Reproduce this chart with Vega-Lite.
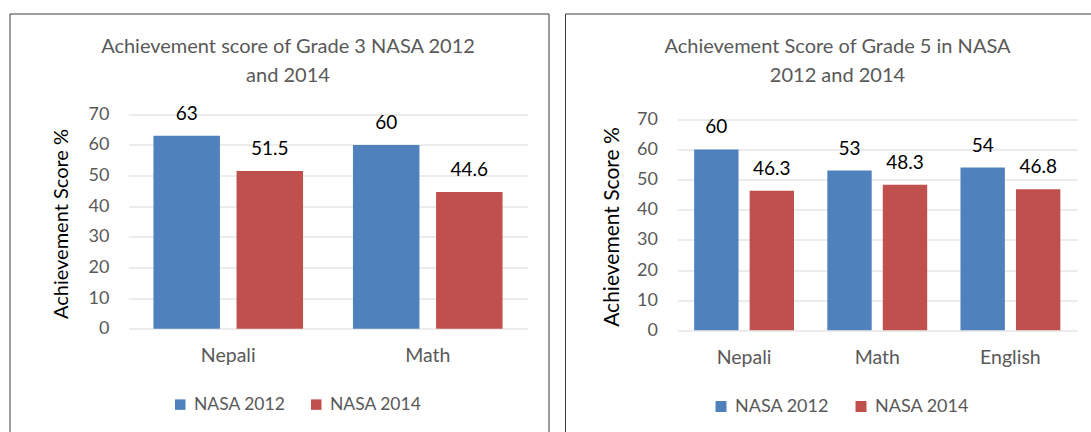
{
  "$schema": "https://vega.github.io/schema/vega-lite/v6.json",
  "padding": {"left": 8.5, "top": 12.5, "right": 0, "bottom": 0},
  "background": "white",
  "spacing": 14.5,
  "config": {
    "font": "Lato",
    "view": {"stroke": "#3c3c3c", "strokeWidth": 1}
  },
  "resolve": {
    "scale": {"x": "independent", "y": "independent", "xOffset": "independent", "color": "independent"},
    "legend": {"color": "independent"}
  },
  "datasets": {
    "g3": [
      {"subject": "Nepali", "year": "NASA 2012", "score": 63},
      {"subject": "Nepali", "year": "NASA 2014", "score": 51.5},
      {"subject": "Math", "year": "NASA 2012", "score": 60},
      {"subject": "Math", "year": "NASA 2014", "score": 44.6}
    ],
    "g5": [
      {"subject": "Nepali", "year": "NASA 2012", "score": 60},
      {"subject": "Nepali", "year": "NASA 2014", "score": 46.3},
      {"subject": "Math", "year": "NASA 2012", "score": 53},
      {"subject": "Math", "year": "NASA 2014", "score": 48.3},
      {"subject": "English", "year": "NASA 2012", "score": 54},
      {"subject": "English", "year": "NASA 2014", "score": 46.8}
    ]
  },
  "hconcat": [
    {
      "width": 539,
      "height": 432,
      "title": {"text": ["Achievement score of Grade 3 NASA 2012", "and 2014"], "anchor": "middle", "frame": "group", "offset": -72, "dx": 9, "fontSize": 20, "fontWeight": "normal", "color": "#595959", "lineHeight": 29},
      "data": {"name": "g3"},
      "encoding": {
        "x": {"field": "subject", "type": "nominal", "sort": ["Nepali", "Math"],
          "scale": {"range": [119, 518], "paddingInner": 0, "paddingOuter": 0},
          "axis": {"orient": "bottom", "offset": -116.8, "domain": false, "ticks": false, "labelFontSize": 19.5, "labelColor": "#595959", "labelPadding": 18, "title": null, "labelAngle": 0}},
        "xOffset": {"field": "year", "type": "nominal", "scale": {"paddingInner": 0.2, "paddingOuter": 0.3}},
        "y": {"field": "score", "type": "quantitative",
          "scale": {"domain": [-38.13, 102.91], "nice": false, "zero": false},
          "axis": {"values": [0, 10, 20, 30, 40, 50, 60, 70], "offset": -119, "domain": false, "ticks": false, "grid": true, "gridColor": "#d9d9d9", "gridWidth": 1, "labelFontSize": 18, "labelColor": "#595959", "labelPadding": 19.5, "title": "Achievement Score %", "titleFontSize": 20, "titleFontWeight": "normal", "titleColor": "#000000", "titleX": -67.5, "titleY": 210, "titleBaseline": "middle"}}
      },
      "layer": [
        {"mark": {"type": "bar"},
          "encoding": {
            "y2": {"datum": 0},
            "color": {"field": "year", "type": "nominal",
              "scale": {"domain": ["NASA 2012", "NASA 2014"], "range": ["#4f81bd", "#c0504d"]},
              "legend": {"orient": "none", "legendX": 162, "legendY": 382, "direction": "horizontal", "title": null, "symbolType": "square", "symbolSize": 110, "labelFontSize": 17.5, "labelColor": "#595959", "columnPadding": 22, "labelOffset": 5, "symbolStrokeWidth": 0, "padding": 0}}
          }},
        {"mark": {"type": "text", "dy": -16, "baseline": "alphabetic", "fontSize": 19, "color": "#000000"},
          "encoding": {"text": {"field": "score", "type": "quantitative"}}}
      ]
    },
    {
      "width": 539,
      "height": 432,
      "title": {"text": ["Achievement Score of Grade 5 in NASA", "2012 and 2014"], "anchor": "middle", "frame": "group", "offset": -72, "dx": 3, "fontSize": 20, "fontWeight": "normal", "color": "#595959", "lineHeight": 29},
      "data": {"name": "g5"},
      "encoding": {
        "x": {"field": "subject", "type": "nominal", "sort": ["Nepali", "Math", "English"],
          "scale": {"range": [112.5, 512], "paddingInner": 0, "paddingOuter": 0},
          "axis": {"orient": "bottom", "offset": -115.2, "domain": false, "ticks": false, "labelFontSize": 19.5, "labelColor": "#595959", "labelPadding": 18, "title": null, "labelAngle": 0}},
        "xOffset": {"field": "year", "type": "nominal", "scale": {"paddingInner": 0.2, "paddingOuter": 0.3}},
        "y": {"field": "score", "type": "quantitative",
          "scale": {"domain": [-38.22, 105.1], "nice": false, "zero": false},
          "axis": {"values": [0, 10, 20, 30, 40, 50, 60, 70], "offset": -112.5, "domain": false, "ticks": false, "grid": true, "gridColor": "#d9d9d9", "gridWidth": 1, "labelFontSize": 18, "labelColor": "#595959", "labelPadding": 20, "title": "Achievement Score %", "titleFontSize": 21, "titleFontWeight": "normal", "titleColor": "#000000", "titleX": -65, "titleY": 213, "titleBaseline": "middle"}}
      },
      "layer": [
        {"mark": {"type": "bar"},
          "encoding": {
            "y2": {"datum": 0},
            "color": {"field": "year", "type": "nominal",
              "scale": {"domain": ["NASA 2012", "NASA 2014"], "range": ["#4f81bd", "#c0504d"]},
              "legend": {"orient": "none", "legendX": 147, "legendY": 384, "direction": "horizontal", "title": null, "symbolType": "square", "symbolSize": 120, "labelFontSize": 18, "labelColor": "#595959", "columnPadding": 22, "labelOffset": 5, "symbolStrokeWidth": 0, "padding": 0}}
          }},
        {"mark": {"type": "text", "dy": -16, "baseline": "alphabetic", "fontSize": 19, "color": "#000000"},
          "encoding": {"text": {"field": "score", "type": "quantitative"}}}
      ]
    }
  ]
}
